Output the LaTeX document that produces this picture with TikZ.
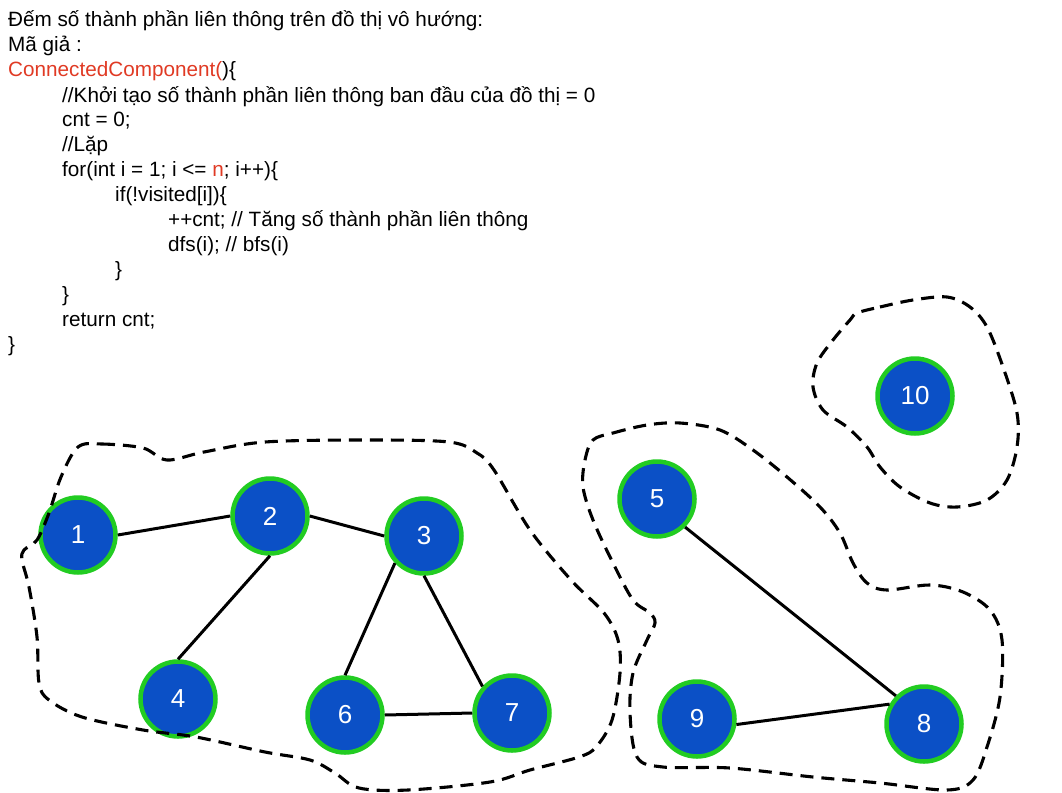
\documentclass[tikz,border=0pt]{standalone}
\usepackage{fontspec}
\setmainfont{Liberation Sans}
\usetikzlibrary{calc}
\definecolor{nodeblue}{HTML}{0B50C6}
\definecolor{nodegreen}{HTML}{22CC22}
\definecolor{codered}{HTML}{E03A24}
\tikzset{
  vert/.style={circle, fill=nodeblue, draw=nodegreen, line width=4.5pt, minimum size=75pt, inner sep=0pt, text=white, font=\fontsize{26}{26}\selectfont},
  edge/.style={line width=3pt, black},
  blob/.style={line width=3.1pt, dash pattern=on 13pt off 8pt, black},
  code/.style={anchor=base west, inner sep=0pt, font=\fontsize{20.7}{24}\selectfont}
}
\begin{document}
\begin{tikzpicture}[x=1pt,y=-1pt]
\useasboundingbox (0,0) rectangle (1062,792);
% pseudo-code
\node[code] (l0) at (8,27) {Đếm số thành phần liên thông trên đồ thị vô hướng:};
\node[code] (l1) at (8,52) {Mã giả :};
\node[code] (l2) at (8,77) {\textcolor{codered}{ConnectedComponent(})\{};
\node[code] (l3) at (62,102) {//Khởi tạo số thành phần liên thông ban đầu của đồ thị = 0};
\node[code] (l4) at (62,126) {cnt = 0;};
\node[code] (l5) at (62,151) {//Lặp};
\node[code] (l6) at (62,176) {for(int i = 1; i <= \textcolor{codered}{n}; i++)\{};
\node[code] (l7) at (115,201) {if(!visited[i])\{};
\node[code] (l8) at (168,226) {++cnt; // Tăng số thành phần liên thông};
\node[code] (l9) at (168,251) {dfs(i); // bfs(i)};
\node[code] (l10) at (115,276) {\}};
\node[code] (l11) at (62,301) {\}};
\node[code] (l12) at (62,326) {return cnt;};
\node[code] (l13) at (8,351) {\}};
% vertices
\node[vert] (n1) at (78,535) {1};
\node[vert] (n2) at (270,516) {2};
\node[vert] (n3) at (424,536) {3};
\node[vert] (n4) at (178,699) {4};
\node[vert] (n6) at (345,715) {6};
\node[vert] (n7) at (512,713) {7};
\node[vert] (n5) at (657,499) {5};
\node[vert] (n9) at (697,719) {9};
\node[vert] (n8) at (924,724) {8};
\node[vert] (n10) at (915,396) {10};
% edges
\draw[edge] (n1.east) -- (n2.west);
\draw[edge] (n2.east) -- (n3.west);
\draw[edge] (n2.south) -- (n4.north);
\draw[edge] (n3.-137) -- (n6.north);
\draw[edge] (n3.south) -- (n7.138);
\draw[edge] (n6.east) -- (n7.west);
\draw[edge] (n5.-45) -- (n8.135);
\draw[edge] (n9.-8) -- (n8.150);
% components
\draw[blob] plot[smooth cycle, tension=0.55] coordinates {
 (78,447) (102,444) (143,448) (167,460) (204,452) (265,442) (367,440) (449,442)
 (477,453) (494,470) (530,530) (571,580) (604,613) (618,640) (620,673) (612,720)
 (596,747) (579,757) (530,770) (490,782) (408,790) (359,788) (335,773) (310,760)
 (265,752) (196,737) (143,730) (82,717) (49,700) (39,683) (37,637) (29,587)
 (22,560) (24,550) (37,540) (49,513) (61,477)};
\draw[blob] plot[smooth cycle, tension=0.55] coordinates {
 (593,440) (613,433) (647,425) (680,423) (720,430) (753,450) (787,477) (820,507)
 (840,533) (853,563) (867,583) (887,590) (930,585) (963,592) (990,610) (1002,640)
 (1000,697) (987,747) (973,780) (947,790) (880,783) (813,777) (730,768) (663,767)
 (637,757) (630,713) (633,673) (647,640) (655,623) (650,613) (633,600) (613,563)
 (593,520) (583,487) (585,460)};
\draw[blob] plot[smooth cycle, tension=0.55] coordinates {
 (857,313) (880,307) (913,300) (947,297) (970,307) (987,327) (1003,367) (1017,413)
 (1017,447) (1007,480) (987,500) (957,507) (930,503) (900,487) (880,467) (867,447)
 (847,427) (823,410) (813,387) (817,363) (833,340) (850,320)};
\end{tikzpicture}
\end{document}
